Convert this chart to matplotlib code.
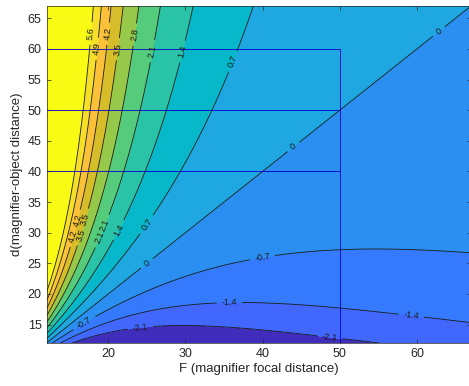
import numpy as np
import matplotlib
matplotlib.use("Agg")
import matplotlib.pyplot as plt
from matplotlib.colors import LinearSegmentedColormap

# chart data: contour levels, fitted field parameters, overlay box, label spots
f_range = (12, 67)          # magnifier focal distance axis
d_range = (12, 67)          # magnifier-object distance axis
field_gain = 1080.0         # value = gain * (d - F) / (d**d_exp * F**2)
d_exp = 0.8
levels = [-2.1, -1.4, -0.7, 0.0, 0.7, 1.4, 2.1, 2.8, 3.5, 4.2, 4.9, 5.6]
box_f_max = 50
box_d_rows = [60, 50, 40]
label_spots = [(17.9, 62.5), (18.8, 60.0), (19.8, 62.5), (21.0, 60.0), (22.6, 62.5),
               (25.5, 59.7), (29.1, 59.7), (36.0, 58.0),
               (15.3, 29.5), (16.0, 32.0), (16.8, 29.5), (17.5, 32.0), (18.5, 29.5),
               (20.0, 31.0), (21.6, 30.3), (24.8, 31.5),
               (25.0, 25.0), (44.0, 44.0), (63.0, 62.6),
               (17.0, 15.1), (40.0, 25.7), (35.7, 18.4), (59.2, 16.0),
               (24.2, 14.3), (48.7, 12.8)]

# parula-like colormap (MATLAB default)
parula_pts = [
    (0.2422, 0.1504, 0.6603), (0.2647, 0.1978, 0.7952), (0.2783, 0.2559, 0.8991),
    (0.2810, 0.3228, 0.9579), (0.2699, 0.3892, 0.9906), (0.2206, 0.4603, 0.9973),
    (0.1786, 0.5289, 0.9682), (0.1540, 0.5902, 0.9218), (0.1248, 0.6459, 0.8883),
    (0.0689, 0.6948, 0.8394), (0.0067, 0.7312, 0.7660), (0.1408, 0.7584, 0.6842),
    (0.2161, 0.7843, 0.5923), (0.3406, 0.8008, 0.4789), (0.5044, 0.7993, 0.3480),
    (0.6720, 0.7793, 0.2227), (0.8203, 0.7498, 0.1535), (0.9393, 0.7288, 0.2100),
    (0.9970, 0.7659, 0.2199), (0.9786, 0.8386, 0.1766), (0.9597, 0.9135, 0.1423),
    (0.9769, 0.9839, 0.0805)]
parula = LinearSegmentedColormap.from_list("parula", parula_pts)
# colormap position of each filled band, bottom band first
band_pos = [0.03, 0.2, 0.25, 0.31, 0.39, 0.46, 0.537, 0.614, 0.691, 0.769, 0.846, 0.923, 1.0]

F = np.linspace(f_range[0], f_range[1], 400)
d = np.linspace(d_range[0], d_range[1], 400)
FF, DD = np.meshgrid(F, d)
Z = field_gain * (DD - FF) / (DD ** d_exp * FF ** 2)

fill_levels = [Z.min() - 1] + levels + [Z.max() + 1]
band_colors = parula(band_pos)

plt.rcParams["font.family"] = ["Liberation Sans", "DejaVu Sans"]
fig = plt.figure(figsize=(4.69, 3.86), dpi=100)
ax = fig.add_axes([46.5 / 469, 43 / 386, (471 - 46.5) / 469, (343 - 6) / 386])

ax.contourf(FF, DD, Z, levels=fill_levels, colors=band_colors)
cs = ax.contour(FF, DD, Z, levels=levels, colors="#1a1a1a", linewidths=0.6,
                linestyles="solid")
ax.clabel(cs, levels, manual=label_spots, inline=True, fontsize=6.5,
          fmt=lambda v: ("%g" % round(v, 1)), colors="#1a1a1a")

# region box overlay
for row in box_d_rows:
    ax.plot([f_range[0], box_f_max], [row, row], color="#0000cc", lw=0.6)
ax.plot([box_f_max, box_f_max], [d_range[0], box_d_rows[0]], color="#0000cc", lw=0.6)

ax.set_xlim(*f_range)
ax.set_ylim(*d_range)
ax.set_xticks([20, 30, 40, 50, 60])
ax.set_yticks([15, 20, 25, 30, 35, 40, 45, 50, 55, 60, 65])
ax.tick_params(direction="in", length=3, width=0.5, colors="#262626",
               labelsize=9, top=True, right=True)
for s in ax.spines.values():
    s.set_linewidth(0.5)
    s.set_color("#262626")
ax.set_xlabel("F (magnifier focal distance)", fontsize=9.5, color="#262626", labelpad=2)
ax.set_ylabel("d(magnifier-object distance)", fontsize=9.5, color="#262626", labelpad=3)

fig.savefig("out.png", dpi=100)
